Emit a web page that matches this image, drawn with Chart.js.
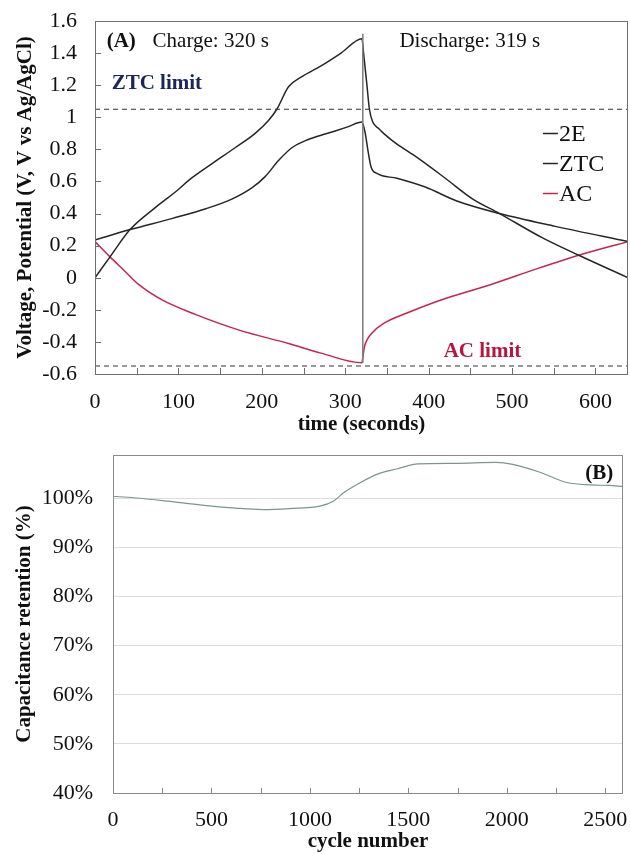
<!DOCTYPE html>
<html>
<head>
<meta charset="utf-8">
<script src="https://cdn.jsdelivr.net/npm/chart.js@4"></script>
<style>
  html, body { margin: 0; padding: 0; background: #fff; }
  #wrap { position: relative; width: 630px; height: 854px; overflow: hidden; }
  .panel { position: absolute; left: 0; }
  #panelA { top: 0; }
  #panelB { top: 440px; }
</style>
</head>
<body>
<div id="wrap">
  <div class="panel" id="panelA"><canvas id="chartA" width="630" height="440"></canvas></div>
  <div class="panel" id="panelB"><canvas id="chartB" width="630" height="414"></canvas></div>
</div>
<script>
// (A) charge / discharge curves, time in s, potential in V
const seriesNames = ['2E', 'ZTC', 'AC'];

const time2E = [0, 18, 42, 73, 100, 113, 140, 168, 192, 208, 218, 232, 247, 271, 295, 320, 322, 326, 329, 333, 340, 346, 360, 386, 420, 453, 485, 536, 580, 639];
const volt2E = [0.00, 0.13, 0.30, 0.44, 0.55, 0.61, 0.71, 0.81, 0.90, 0.98, 1.05, 1.19, 1.25, 1.32, 1.40, 1.49, 1.40, 1.20, 1.05, 0.97, 0.93, 0.90, 0.84, 0.75, 0.62, 0.49, 0.40, 0.25, 0.14, 0.00];

const timeZTC = [0, 42, 93, 133, 164, 188, 204, 220, 236, 255, 279, 303, 320, 324, 327, 331, 338, 362, 396, 433, 485, 552, 639];
const voltZTC = [0.235, 0.30, 0.37, 0.43, 0.49, 0.56, 0.63, 0.73, 0.81, 0.86, 0.90, 0.94, 0.97, 0.90, 0.80, 0.69, 0.65, 0.62, 0.565, 0.48, 0.40, 0.32, 0.225];

const timeAC = [0, 18, 34, 53, 81, 121, 172, 232, 271, 320, 321, 323, 327, 331, 346, 374, 414, 473, 532, 580, 639];
const voltAC = [0.225, 0.13, 0.05, -0.045, -0.14, -0.23, -0.325, -0.41, -0.47, -0.53, -0.50, -0.43, -0.38, -0.35, -0.285, -0.22, -0.14, -0.045, 0.06, 0.14, 0.225];

const ztcLimit = 1.05;
const acLimit = -0.55;
const switchTime = 321;
const switchSpan = [1.52, -0.53];
const timeRange = [0, 639];

// (B) cycling stability
const cycleNumbers = [0, 106, 277, 450, 621, 759, 896, 1051, 1119, 1171, 1257, 1343, 1446, 1549, 1738, 1945, 2030, 2168, 2305, 2426, 2520, 2589];
const retention = [100.4, 100.1, 99.4, 98.6, 98.0, 97.7, 97.9, 98.4, 99.4, 101.1, 103.2, 104.9, 106.0, 107.0, 107.1, 107.3, 106.9, 105.3, 103.2, 102.7, 102.6, 102.4];

const FONT = '"Liberation Serif", "Times New Roman", serif';
const toPoints = (xs, ys) => xs.map((x, i) => ({ x: x, y: ys[i] }));

// ticks at every step from min up to max (no extra tick at max)
const stepTicks = step => scale => {
    const t = [];
    for (let v = scale.min; v <= scale.max + 1e-9; v += step) t.push({ value: Math.round(v * 1000) / 1000 });
    scale.ticks = t;
};
// fixed axis box size, no extra padding for edge labels
const fixWidth = w => s => { s.width = w; s.paddingTop = 0; s.paddingBottom = 0; };
const fixHeight = h => s => { s.height = h; s.paddingLeft = 0; s.paddingRight = 0; };

// frame, inward ticks, text notes and the small legend
const panelDecor = {
    id: 'panelDecor',
    afterDatasetsDraw(chart, args, opts) {
        const { ctx, chartArea: a, scales } = chart;
        ctx.save();
        ctx.strokeStyle = opts.frameColor;
        ctx.lineWidth = 1;
        ctx.strokeRect(a.left + 0.5, a.top + 0.5, a.right - a.left - 1, a.bottom - a.top);

        ctx.beginPath();
        if (opts.xTicks) {
            scales.x.ticks.forEach(t => {
                const px = Math.round(scales.x.getPixelForValue(t.value)) + 0.5;
                ctx.moveTo(px, a.bottom);
                ctx.lineTo(px, a.bottom - opts.tickLen);
            });
        }
        if (opts.yTicks) {
            scales.y.ticks.forEach(t => {
                const py = Math.round(scales.y.getPixelForValue(t.value)) + 0.5;
                ctx.moveTo(a.left, py);
                ctx.lineTo(a.left + opts.tickLen, py);
            });
        }
        ctx.stroke();

        ctx.textBaseline = 'middle';
        ctx.textAlign = 'left';
        (opts.notes || []).forEach(n => {
            ctx.font = (n.bold ? 'bold ' : '') + n.size + 'px ' + FONT;
            ctx.fillStyle = n.color || '#111';
            ctx.fillText(n.text, scales.x.getPixelForValue(n.x), scales.y.getPixelForValue(n.y));
        });

        if (opts.legend) {
            const lg = opts.legend;
            let y = scales.y.getPixelForValue(lg.y);
            const x = scales.x.getPixelForValue(lg.x);
            chart.data.datasets.filter(d => seriesNames.includes(d.label)).forEach(d => {
                ctx.strokeStyle = d.borderColor;
                ctx.lineWidth = 1.5;
                ctx.beginPath();
                ctx.moveTo(x, Math.round(y) + 0.5);
                ctx.lineTo(x + 15, Math.round(y) + 0.5);
                ctx.stroke();
                ctx.font = '24px ' + FONT;
                ctx.fillStyle = '#111';
                ctx.fillText(d.label, x + 16, y + 1);
                y += lg.step;
            });
        }
        ctx.restore();
    }
};

Chart.defaults.font.family = FONT;
Chart.defaults.color = '#111';

const curveStyle = { showLine: true, pointRadius: 0, borderWidth: 1.5, fill: false, cubicInterpolationMode: 'monotone' };

new Chart(document.getElementById('chartA'), {
    type: 'scatter',
    data: {
        datasets: [
            { label: 'ztc-limit', data: toPoints(timeRange, [ztcLimit, ztcLimit]), showLine: true, pointRadius: 0, borderColor: '#333', borderWidth: 1.2, borderDash: [5, 4] },
            { label: 'ac-limit', data: toPoints(timeRange, [acLimit, acLimit]), showLine: true, pointRadius: 0, borderColor: '#333', borderWidth: 1.2, borderDash: [5, 4] },
            { label: 'switch', data: toPoints([switchTime, switchTime], switchSpan), showLine: true, pointRadius: 0, borderColor: '#808080', borderWidth: 1 },
            { label: '2E', data: toPoints(time2E, volt2E), borderColor: '#262626', ...curveStyle },
            { label: 'ZTC', data: toPoints(timeZTC, voltZTC), borderColor: '#262626', ...curveStyle },
            { label: 'AC', data: toPoints(timeAC, voltAC), borderColor: '#c4264e', ...curveStyle }
        ]
    },
    options: {
        responsive: false,
        animation: false,
        events: [],
        layout: { padding: { top: 21, right: 2, left: 0, bottom: 0 } },
        scales: {
            x: {
                type: 'linear', min: 0, max: 639,
                afterBuildTicks: stepTicks(50),
                afterFit: fixHeight(66),
                grid: { display: false, drawTicks: false },
                border: { display: false },
                ticks: { autoSkip: false, maxRotation: 0, padding: 15, font: { size: 22 },
                    callback: v => (v % 100 === 0 ? String(v) : '') },
                title: { display: true, text: 'time (seconds)', font: { size: 21, weight: 'bold' }, padding: { top: 0, bottom: 3 } }
            },
            y: {
                min: -0.6, max: 1.6,
                afterBuildTicks: stepTicks(0.2),
                afterFit: fixWidth(95),
                grid: { display: false, drawTicks: false },
                border: { display: false },
                ticks: { padding: 18, font: { size: 22 },
                    callback: v => String(Math.round(v * 10) / 10) },
                title: { display: true, text: 'Voltage, Potential (V, V vs Ag/AgCl)', font: { size: 21, weight: 'bold' }, padding: { top: 13, bottom: 0 } }
            }
        },
        plugins: {
            legend: { display: false },
            tooltip: { enabled: false },
            panelDecor: {
                frameColor: '#6e6e6e', xTicks: true, yTicks: true, tickLen: 6,
                notes: [
                    { text: '(A)', x: 14, y: 1.47, size: 21, bold: true },
                    { text: 'Charge: 320 s', x: 69, y: 1.47, size: 21 },
                    { text: 'Discharge: 319 s', x: 365, y: 1.47, size: 21 },
                    { text: 'ZTC limit', x: 20, y: 1.21, size: 21, bold: true, color: '#1d2658' },
                    { text: 'AC limit', x: 418, y: -0.46, size: 21, bold: true, color: '#b5173f' }
                ],
                legend: { x: 537, y: 0.90, step: 30 }
            }
        }
    },
    plugins: [panelDecor]
});

new Chart(document.getElementById('chartB'), {
    type: 'scatter',
    data: {
        datasets: [
            { label: 'retention', data: toPoints(cycleNumbers, retention), showLine: true, pointRadius: 0, borderWidth: 1.2, borderColor: '#7b978a', cubicInterpolationMode: 'monotone' }
        ]
    },
    options: {
        responsive: false,
        animation: false,
        events: [],
        layout: { padding: { top: 15, right: 7, left: 0, bottom: 0 } },
        scales: {
            x: {
                type: 'linear', min: 0, max: 2590,
                afterBuildTicks: stepTicks(250),
                afterFit: fixHeight(61),
                grid: { display: false, drawTicks: false },
                border: { display: false },
                ticks: { autoSkip: false, maxRotation: 0, padding: 14, font: { size: 22 },
                    callback: v => (v % 500 === 0 ? String(v) : '') },
                title: { display: true, text: 'cycle number', font: { size: 21, weight: 'bold' }, padding: { top: 0, bottom: 0 } }
            },
            y: {
                min: 40, max: 108.8,
                afterBuildTicks: stepTicks(10),
                afterFit: fixWidth(113),
                grid: { display: true, color: '#dcdcdc', lineWidth: 1, drawTicks: false },
                border: { display: false },
                ticks: { padding: 20, font: { size: 22 }, callback: v => v + '%' },
                title: { display: true, text: 'Capacitance retention (%)', font: { size: 21, weight: 'bold' }, padding: { top: 12, bottom: 0 } }
            }
        },
        plugins: {
            legend: { display: false },
            tooltip: { enabled: false },
            panelDecor: {
                frameColor: '#8a8a8a', xTicks: true, yTicks: false, tickLen: 5,
                notes: [
                    { text: '(B)', x: 2398, y: 105.1, size: 21, bold: true }
                ]
            }
        }
    },
    plugins: [panelDecor]
});
</script>
</body>
</html>
